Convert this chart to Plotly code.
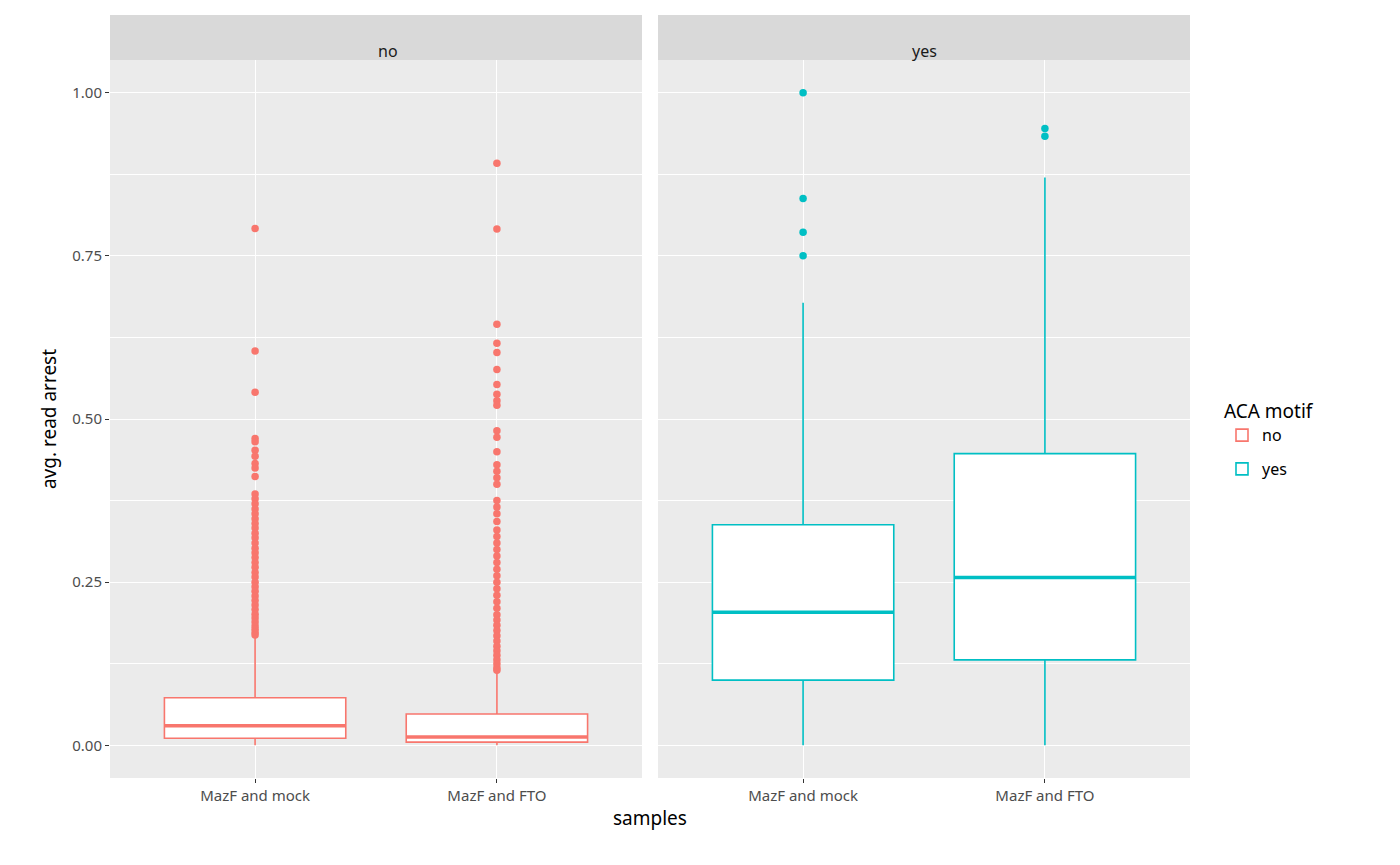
import plotly.graph_objects as go

RED = "#F8766D"
TEAL = "#00BFC4"

samples = ["MazF and mock", "MazF and FTO"]
panels = ["no", "yes"]

# box stats per panel: [mock, fto]
q1 = {"no": [0.011, 0.005], "yes": [0.100, 0.131]}
med = {"no": [0.030, 0.013], "yes": [0.204, 0.257]}
q3 = {"no": [0.073, 0.048], "yes": [0.338, 0.447]}
lo = {"no": [0.0, 0.0], "yes": [0.0, 0.0]}
hi = {"no": [0.167, 0.113], "yes": [0.678, 0.870]}

out_no_mock = [0.792, 0.604, 0.541, 0.470, 0.465, 0.452, 0.443, 0.432, 0.425, 0.412,
               0.385, 0.378, 0.370, 0.362, 0.355, 0.347, 0.340, 0.333, 0.325, 0.318,
               0.310, 0.302, 0.295, 0.288, 0.280, 0.273, 0.265, 0.258, 0.250, 0.243,
               0.236, 0.229, 0.222, 0.215, 0.208, 0.201, 0.195, 0.189, 0.183, 0.178,
               0.173, 0.169]
out_no_fto = [0.892, 0.791, 0.645, 0.616, 0.602, 0.576, 0.553, 0.538, 0.528, 0.521,
              0.482, 0.472, 0.450, 0.430, 0.420, 0.410, 0.400, 0.375, 0.365, 0.355,
              0.343, 0.330, 0.320, 0.310, 0.300, 0.290, 0.280, 0.270, 0.260, 0.250,
              0.240, 0.230, 0.220, 0.210, 0.200, 0.192, 0.184, 0.176, 0.168, 0.160,
              0.152, 0.145, 0.138, 0.131, 0.125, 0.119, 0.115]
out_yes_mock = [1.0, 0.838, 0.786, 0.750]
out_yes_fto = [0.945, 0.933]
outliers = {"no": [out_no_mock, out_no_fto], "yes": [out_yes_mock, out_yes_fto]}

colors = {"no": RED, "yes": TEAL}
BOX_W = 0.75
fig = go.Figure()

for p_i, p in enumerate(panels):
    xa = "x" if p_i == 0 else "x2"
    for s_i in range(2):
        pos = s_i + 1
        fig.add_trace(go.Box(
            x=[pos], q1=[q1[p][s_i]], median=[med[p][s_i]], q3=[q3[p][s_i]],
            lowerfence=[lo[p][s_i]], upperfence=[hi[p][s_i]],
            width=BOX_W, fillcolor="white", line=dict(color=colors[p], width=1.6),
            whiskerwidth=0, name=p, legendgroup=p, showlegend=(s_i == 0),
            xaxis=xa, yaxis="y", hoverinfo="skip"))
        # thicker median line, as in ggplot
        fig.add_trace(go.Scatter(
            x=[pos - BOX_W / 2, pos + BOX_W / 2], y=[med[p][s_i]] * 2, mode="lines",
            line=dict(color=colors[p], width=3.5), showlegend=False,
            xaxis=xa, yaxis="y", hoverinfo="skip"))
        fig.add_trace(go.Scatter(
            x=[pos] * len(outliers[p][s_i]), y=outliers[p][s_i], mode="markers",
            marker=dict(color=colors[p], size=7.5), showlegend=False,
            xaxis=xa, yaxis="y"))

W, H = 1400, 865
OFF = 8  # page body margin
dom1 = [(110 - OFF) / W, (642 - OFF) / W]
dom2 = [(658 - OFF) / W, (1190 - OFF) / W]
ydom = [1 - (778 - OFF) / H, 1 - (60 - OFF) / H]

axis_common = dict(range=[0.4, 2.6], tickvals=[1, 2], ticktext=samples,
                   showgrid=True, gridcolor="white", gridwidth=1.2,
                   ticks="outside", ticklen=4, tickcolor="#333333",
                   tickfont=dict(size=15, color="#4d4d4d"), zeroline=False)

fig.update_layout(
    width=W, height=H, margin=dict(l=0, r=0, t=0, b=0),
    paper_bgcolor="white", plot_bgcolor="#EBEBEB",
    font=dict(family="Noto Sans", color="black"),
    xaxis=dict(domain=dom1, anchor="y", **axis_common),
    xaxis2=dict(domain=dom2, anchor="y", **axis_common),
    yaxis=dict(domain=ydom, range=[-0.05, 1.05], tickvals=[0, 0.25, 0.5, 0.75, 1.0],
               ticktext=["0.00", "0.25", "0.50", "0.75", "1.00"],
               gridcolor="white", gridwidth=1.2, zeroline=False,
               ticks="outside", ticklen=4, tickcolor="#333333",
               tickfont=dict(size=15, color="#4d4d4d"),
               minor=dict(tickvals=[0.125, 0.375, 0.625, 0.875], showgrid=True,
                          gridcolor="white", gridwidth=0.6),
               title=dict(text="avg. read arrest", font=dict(size=19), standoff=10)),
    legend=dict(x=(1222 - OFF) / W, y=1 - (440 - OFF) / H, xanchor="left", yanchor="middle",
                title=dict(text="ACA motif", font=dict(size=19)),
                font=dict(size=16), bgcolor="white"),
    showlegend=True,
)

fig.add_shape(type="rect", xref="paper", yref="paper", x0=dom2[0], x1=dom2[1],
              y0=ydom[0], y1=ydom[1], fillcolor="#EBEBEB", line_width=0, layer="below")
for d, lab in zip([dom1, dom2], panels):
    fig.add_shape(type="rect", xref="paper", yref="paper", x0=d[0], x1=d[1],
                  y0=ydom[1], y1=1 - (15 - OFF) / H, fillcolor="#D9D9D9", line_width=0)
    fig.add_annotation(xref="paper", yref="paper", x=(d[0] + d[1]) / 2,
                       y=1 - (38 - OFF) / H, text=lab, showarrow=False,
                       font=dict(size=16, color="#1a1a1a"))
fig.add_annotation(xref="paper", yref="paper", x=(dom1[0] + dom2[1]) / 2,
                   y=1 - (833 - OFF) / H, text="samples", showarrow=False,
                   font=dict(size=19))

fig.write_html("out.html")
